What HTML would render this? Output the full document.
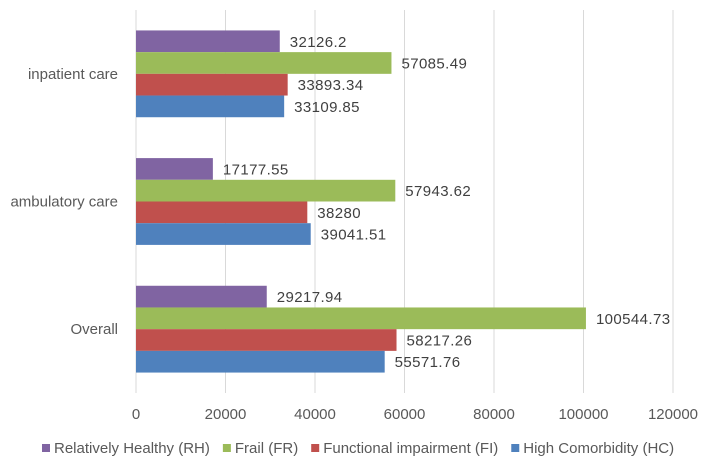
<!DOCTYPE html>
<html><head><meta charset="utf-8"><style>
body{margin:0;background:#fff;font-family:"Liberation Sans",sans-serif;}
svg text{font-family:"Liberation Sans",sans-serif;}
</style></head><body>
<svg id="c" width="706" height="459"></svg>
<script>
const categories=["inpatient care","ambulatory care","Overall"];
const seriesNames=["Relatively Healthy (RH)","Frail (FR)","Functional impairment (FI)","High Comorbidity (HC)"];
const seriesColors=["#8064a2","#9bbb59","#c0504d","#4f81bd"];
const rhValues=[32126.2,17177.55,29217.94];
const frValues=[57085.49,57943.62,100544.73];
const fiValues=[33893.34,38280,58217.26];
const hcValues=[33109.85,39041.51,55571.76];
const rhLabels=["32126.2","17177.55","29217.94"];
const frLabels=["57085.49","57943.62","100544.73"];
const fiLabels=["33893.34","38280","58217.26"];
const hcLabels=["33109.85","39041.51","55571.76"];
const xTicks=[0,20000,40000,60000,80000,100000,120000];
const values=[rhValues,frValues,fiValues,hcValues];
const labels=[rhLabels,frLabels,fiLabels,hcLabels];
const NS="http://www.w3.org/2000/svg";
const svg=document.getElementById('c');
const x0=136,xMax=120000,pw=537,plotTop=10,plotBottom=393;
const band=(plotBottom-plotTop)/categories.length,barH=21.7;
function xs(v){return x0+v/xMax*pw;}
function mk(t,a){const e=document.createElementNS(NS,t);for(const k in a)e.setAttribute(k,a[k]);svg.appendChild(e);return e;}
xTicks.forEach(t=>{
 const l=mk('line',{x1:xs(t),x2:xs(t),y1:plotTop,y2:plotBottom,stroke:'#d9d9d9','stroke-width':1});
 
 
 const tx=mk('text',{x:xs(t),y:419,'text-anchor':'middle','font-size':15,fill:'#595959'});
 tx.textContent=t;
 
 
});
categories.forEach((c,i)=>{
 const cy=plotTop+band*i+band/2;
 const tl=mk('text',{x:118,y:cy+5,'text-anchor':'end','font-size':15,fill:'#595959'});
 tl.textContent=c;
 
 
 const gTop=cy-barH*2;
 values.forEach((s,j)=>{
  const y=gTop+j*barH;
  const r=mk('rect',{x:x0,y:y,width:xs(s[i])-x0,height:barH,fill:seriesColors[j]});
  
  
  const vt=mk('text',{x:xs(s[i])+10,y:y+barH/2+5.5,'font-size':15,'letter-spacing':0.4,fill:'#404040'});
  vt.textContent=labels[j][i];
  
  
 });
});
let lx=42;
seriesNames.forEach((n,j)=>{
 const m=mk('rect',{x:lx,y:444,width:8,height:8,fill:seriesColors[j]});
 
 
 const t=mk('text',{x:lx+12,y:453,'font-size':15,fill:'#595959'});
 t.textContent=n;
 
 
 lx=lx+12+t.getComputedTextLength()+13;
});
</script>
</body></html>
